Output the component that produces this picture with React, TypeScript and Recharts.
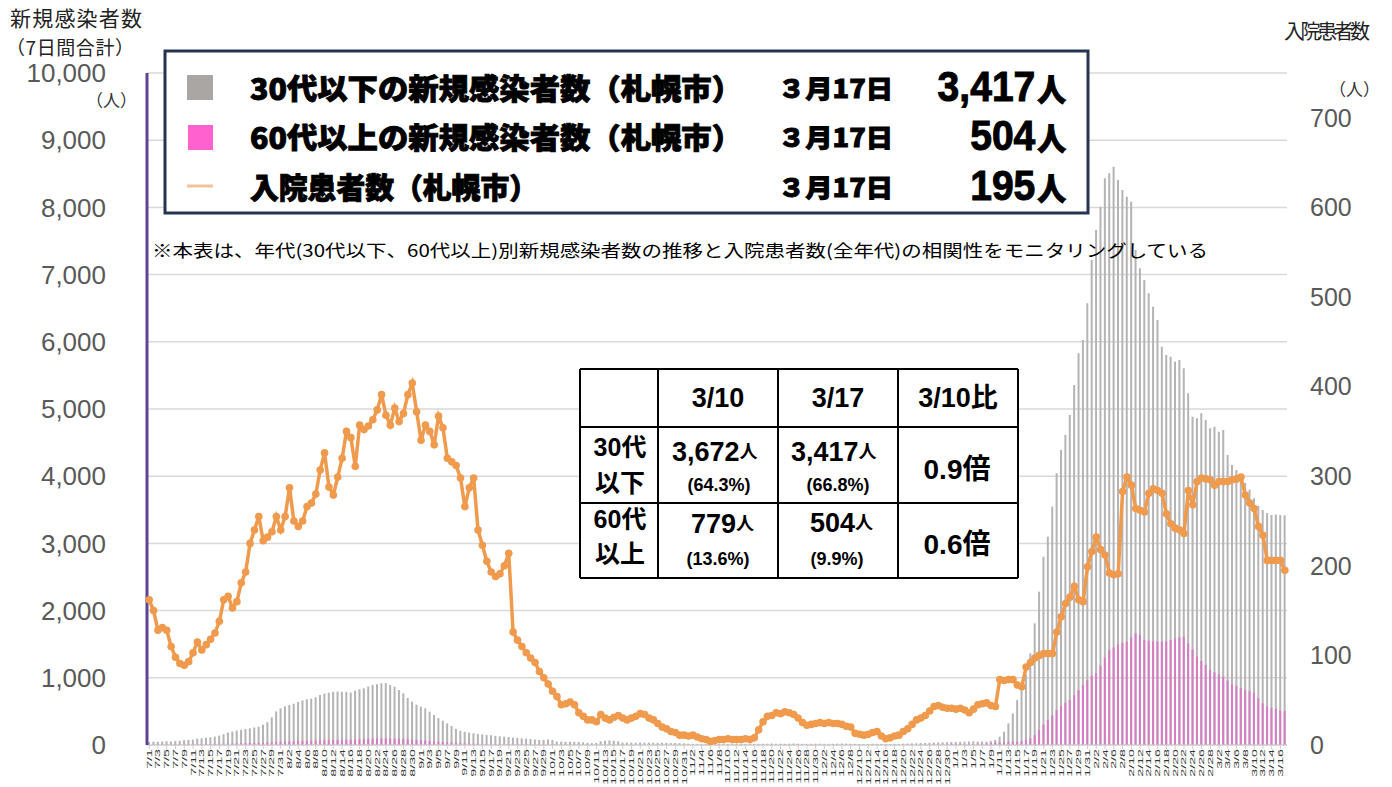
import { ComposedChart, Bar, Line, XAxis, YAxis, CartesianGrid } from 'recharts'

// month / number of days shown (7/1 .. 3/17)
const MONTHS: [number, number][] = [[7, 31], [8, 31], [9, 30], [10, 31], [11, 30], [12, 31], [1, 31], [2, 28], [3, 17]]

// 30代以下 新規感染者数 (7日間合計)
const YOUNG = [
  45, 50, 48, 52, 55, 50, 58, 62, 70, 75,
  80, 95, 100, 108, 115, 125, 140, 160, 185, 200,
  215, 225, 240, 248, 260, 272, 300, 340, 410, 500,
  545, 575, 595, 615, 640, 665, 680, 690, 710, 744,
  765, 779, 790, 795, 793, 790, 780, 808, 829, 843,
  870, 893, 905, 918, 920, 893, 868, 818, 769, 700,
  645, 600, 570, 546, 496, 446, 400, 362, 322, 283,
  240, 210, 195, 184, 174, 165, 158, 150, 145, 135,
  128, 124, 118, 110, 105, 100, 95, 88, 80, 75,
  78, 80, 75, 52, 50, 48, 50, 48, 45, 40,
  32, 28, 30, 55, 65, 68, 62, 55, 35, 36,
  35, 34, 36, 33, 35, 34, 32, 35, 33, 30,
  30, 28, 25, 20, 18, 17, 16, 15, 15, 14,
  15, 16, 15, 14, 15, 16, 17, 16, 15, 16,
  18, 20, 22, 20, 19, 18, 20, 22, 20, 18,
  17, 18, 20, 19, 18, 17, 18, 20, 22, 20,
  18, 17, 16, 15, 16, 18, 17, 16, 15, 16,
  17, 18, 20, 22, 24, 25, 28, 30, 32, 35,
  38, 40, 42, 44, 45, 48, 50, 52, 55, 50,
  52, 50, 60, 75, 124, 198, 322, 471, 670, 818,
  1050, 1364, 1811, 2282, 2802, 3100, 3546, 4043, 4390, 4613,
  4911, 5357, 5828, 6027, 6572, 7217, 7664, 8011, 8433, 8507,
  8606, 8408, 8259, 8160, 8085, 7366, 7093, 6920, 6722, 6523,
  6324, 5928, 5804, 5779, 5704, 5729, 5605, 5233, 4886, 4861,
  4936, 4836, 4712, 4737, 4663, 4688, 4315, 4167, 4092, 3980,
  3900, 3800, 3672, 3560, 3497, 3450, 3423, 3430, 3420, 3417,
]

// 60代以上 新規感染者数 (7日間合計)
const OLD = [
  8, 8, 9, 9, 10, 10, 10, 11, 11, 12,
  12, 13, 14, 15, 15, 16, 18, 20, 22, 24,
  25, 26, 28, 30, 30, 32, 35, 38, 40, 45,
  48, 50, 52, 55, 58, 60, 62, 62, 65, 68,
  70, 72, 75, 75, 76, 78, 80, 82, 84, 86,
  90, 95, 98, 100, 100, 98, 95, 92, 88, 85,
  80, 75, 70, 66, 60, 55, 50, 45, 40, 36,
  32, 28, 25, 22, 20, 18, 17, 16, 15, 14,
  13, 12, 12, 11, 10, 10, 9, 9, 8, 8,
  8, 8, 8, 7, 7, 7, 7, 6, 6, 6,
  6, 6, 5, 6, 7, 7, 6, 6, 5, 5,
  5, 5, 6, 5, 5, 5, 4, 4, 4, 4,
  4, 4, 3, 3, 3, 3, 3, 3, 3, 3,
  3, 3, 3, 3, 3, 3, 3, 3, 3, 3,
  4, 4, 4, 4, 4, 4, 4, 4, 4, 4,
  4, 4, 4, 4, 4, 4, 4, 4, 4, 4,
  4, 4, 4, 3, 3, 3, 3, 3, 3, 3,
  4, 4, 4, 5, 5, 5, 6, 6, 7, 8,
  9, 10, 10, 11, 12, 12, 13, 14, 15, 18,
  20, 22, 30, 38, 42, 45, 48, 50, 50, 55,
  75, 100, 150, 223, 300, 372, 440, 521, 580, 630,
  670, 740, 818, 890, 967, 1030, 1067, 1180, 1300, 1414,
  1450, 1500, 1520, 1537, 1600, 1662, 1640, 1563, 1550, 1545,
  1540, 1537, 1545, 1563, 1580, 1600, 1612, 1513, 1420, 1314,
  1250, 1190, 1116, 1080, 1050, 1017, 960, 900, 880, 850,
  820, 800, 779, 700, 620, 570, 550, 540, 510, 504,
]

// 入院患者数 (札幌市)
const HOSP = [
  162, 150, 128, 131, 128, 110, 98, 91, 89, 93,
  103, 115, 106, 112, 118, 125, 138, 162, 166, 153,
  160, 181, 193, 225, 240, 255, 228, 232, 238, 255,
  240, 255, 287, 250, 244, 250, 266, 270, 280, 307,
  326, 288, 279, 299, 320, 350, 343, 311, 357, 352,
  356, 363, 374, 391, 368, 357, 376, 361, 370, 391,
  404, 372, 340, 357, 350, 335, 367, 354, 320, 316,
  312, 298, 266, 287, 298, 240, 223, 205, 193, 188,
  191, 200, 214, 126, 117, 110, 103, 97, 92, 82,
  75, 68, 60, 54, 45, 46, 48, 45, 36, 32,
  28, 28, 26, 34, 30, 28, 31, 33, 30, 28,
  30, 32, 35, 34, 30, 28, 24, 20, 18, 15,
  14, 11, 11, 10, 11, 9, 7, 6, 4, 5,
  6, 6, 7, 6, 6, 6, 7, 6, 8, 17,
  26, 32, 33, 36, 35, 37, 36, 34, 30, 25,
  22, 23, 24, 25, 24, 25, 24, 24, 23, 21,
  20, 13, 12, 11, 12, 14, 15, 10, 7, 8,
  10, 11, 15, 18, 23, 28, 30, 33, 38, 43,
  44, 42, 41, 41, 40, 41, 39, 36, 40, 45,
  46, 47, 44, 43, 73, 72, 73, 73, 67, 65,
  87, 92, 97, 100, 102, 102, 102, 126, 143, 158,
  165, 177, 162, 160, 199, 216, 232, 218, 212, 192,
  190, 191, 283, 299, 290, 264, 262, 260, 281, 286,
  284, 281, 258, 247, 242, 240, 236, 284, 268, 294,
  298, 297, 296, 290, 294, 294, 294, 296, 297, 299,
  279, 270, 264, 244, 234, 206, 206, 206, 206, 195,
]

const LEFT_TICKS = [0, 1000, 2000, 3000, 4000, 5000, 6000, 7000, 8000, 9000, 10000]
const RIGHT_TICKS = [0, 100, 200, 300, 400, 500, 600, 700]

const DATES: string[] = MONTHS.flatMap(([m, n]) => Array.from({ length: n }, (_, i) => `${m}/${i + 1}`))
const rows = DATES.map((date, i) => ({ date, young: YOUNG[i], old: OLD[i], hosp: HOSP[i] }))

const JP = '"Noto Sans CJK JP", "Noto Sans", sans-serif'
const NUM = '"Liberation Sans", Arial, "Noto Sans CJK JP", sans-serif'
const ORANGE = '#ef9a4c'

const XTick = ({ x, y, payload }: any) => (
  <text transform={`translate(${x},${y - 2}) rotate(-90) scale(1.9,1)`} textAnchor="end" dy="0.33em"
    fontSize={7.5} fontFamily={NUM} fill="#333">{payload.value}</text>
)
const LeftTick = ({ x, y, payload }: any) => (
  <text x={x - 33} y={y} dy="0.35em" textAnchor="end" fontSize={26} fontFamily={NUM} fill="#595959">
    {payload.value.toLocaleString('en-US')}
  </text>
)
const RightTick = ({ x, y, payload }: any) => (
  <text x={x + 15} y={y} dy="0.35em" textAnchor="start" fontSize={25} fontFamily={NUM} fill="#595959">
    {payload.value}
  </text>
)

function Overlay() {
  const cols = [580, 658, 778, 898, 1018]
  const rws = [369, 427, 503, 578]
  const heavy = { fontWeight: 900, fontFamily: JP, fill: '#000', stroke: '#000', strokeWidth: 0.9 }
  return (
    <svg width={1392} height={787} style={{ position: 'absolute', left: 0, top: 0, pointerEvents: 'none' }}>
      {/* axis titles */}
      <text x={10} y={17} dominantBaseline="central" fontSize={21} fontFamily={JP} fill="#222" textLength={132}>新規感染者数</text>
      <text x={6} y={46} dominantBaseline="central" fontSize={19} fontFamily={JP} fill="#222" textLength={128}>（7日間合計）</text>
      <text x={86} y={99} dominantBaseline="central" fontSize={17} fontFamily={JP} fill="#333">（人）</text>
      <text x={1284} y={30} dominantBaseline="central" fontSize={20} fontFamily={JP} fill="#222" textLength={86}>入院患者数</text>
      <text x={1329} y={88} dominantBaseline="central" fontSize={17} fontFamily={JP} fill="#333">（人）</text>

      {/* legend box */}
      <rect x={165} y={51} width={923} height={162} fill="#fff" stroke="#26344f" strokeWidth={3} />
      <rect x={187} y={75} width={26} height={25} fill="#aaa6a4" />
      <rect x={188} y={125} width={25} height={25} fill="#ff62cf" />
      <line x1={187} x2={213} y1={186} y2={186} stroke="#f2c29b" strokeWidth={3} />
      {[
        ['30代以下の新規感染者数（札幌市）', 492, '3,417', 87],
        ['60代以上の新規感染者数（札幌市）', 492, '504', 136],
        ['入院患者数（札幌市）', 288, '195', 186],
      ].map(([label, lw, num, cy]: any) => (
        <g key={label}>
          <text x={250} y={cy} dominantBaseline="central" fontSize={29} {...heavy}
            textLength={lw} lengthAdjust="spacingAndGlyphs">{label}</text>
          <text x={778} y={cy} dominantBaseline="central" fontSize={25} {...heavy}
            textLength={115} lengthAdjust="spacingAndGlyphs">３月17日</text>
          <text transform={`translate(1066 ${cy + 14}) scale(0.93 1)`} textAnchor="end" fontSize={42} fontWeight={700}
            fontFamily={NUM} fill="#000" stroke="#000" strokeWidth={1}>
            {num}<tspan fontFamily={JP} fontWeight={900} fontSize={31} dx={2}>人</tspan>
          </text>
        </g>
      ))}

      {/* note */}
      <text x={152} y={249} dominantBaseline="central" fontSize={17} fontFamily={JP} fill="#000" textLength={1056}
        lengthAdjust="spacingAndGlyphs">※本表は、年代(30代以下、60代以上)別新規感染者数の推移と入院患者数(全年代)の相関性をモニタリングしている</text>

      {/* comparison table */}
      <rect x={580} y={369} width={438} height={209} fill="#fff" />
      {cols.map((cx) => <line key={cx} x1={cx} x2={cx} y1={369} y2={578} stroke="#000" strokeWidth={2} />)}
      {rws.map((ry) => <line key={ry} x1={580} x2={1018} y1={ry} y2={ry} stroke="#000" strokeWidth={2} />)}
      <g fontFamily={NUM} fontWeight={700} fill="#000">
        <text x={718} y={398} dominantBaseline="central" textAnchor="middle" fontSize={27}>3/10</text>
        <text x={838} y={398} dominantBaseline="central" textAnchor="middle" fontSize={27}>3/17</text>
        <text x={958} y={398} dominantBaseline="central" textAnchor="middle" fontSize={27}>3/10比</text>

        <text x={620} y={447} dominantBaseline="central" textAnchor="middle" fontSize={25}>30代</text>
        <text x={620} y={483} dominantBaseline="central" textAnchor="middle" fontSize={25}>以下</text>
        <text x={620} y={519} dominantBaseline="central" textAnchor="middle" fontSize={25}>60代</text>
        <text x={620} y={554} dominantBaseline="central" textAnchor="middle" fontSize={25}>以上</text>

        <text x={672} y={452} dominantBaseline="central" fontSize={27}>3,672<tspan fontSize={18}>人</tspan></text>
        <text x={719} y={485} dominantBaseline="central" textAnchor="middle" fontSize={18}>(64.3%)</text>
        <text x={791} y={452} dominantBaseline="central" fontSize={27}>3,417<tspan fontSize={18}>人</tspan></text>
        <text x={838} y={485} dominantBaseline="central" textAnchor="middle" fontSize={18}>(66.8%)</text>
        <text x={957} y={469} dominantBaseline="central" textAnchor="middle" fontSize={28}>0.9倍</text>

        <text x={691} y={524} dominantBaseline="central" fontSize={27}>779<tspan fontSize={18}>人</tspan></text>
        <text x={718} y={559} dominantBaseline="central" textAnchor="middle" fontSize={18}>(13.6%)</text>
        <text x={810} y={523} dominantBaseline="central" fontSize={27}>504<tspan fontSize={18}>人</tspan></text>
        <text x={837} y={559} dominantBaseline="central" textAnchor="middle" fontSize={18}>(9.9%)</text>
        <text x={957} y={544} dominantBaseline="central" textAnchor="middle" fontSize={28}>0.6倍</text>
      </g>
    </svg>
  )
}

export default function App() {
  return (
    <div style={{ position: 'absolute', left: 0, top: 0, width: 1392, height: 787, background: '#fff' }}>
      <ComposedChart width={1392} height={787} data={rows} margin={{ top: 73, right: 0, bottom: 0, left: 0 }}>
        <CartesianGrid xAxisId="a" yAxisId="left" vertical={false} stroke="#d9d9d9" strokeWidth={1.5} />
        <XAxis xAxisId="a" dataKey="date" interval={1} height={42} tick={<XTick />}
          tickLine={{ stroke: '#cfcfcf' }} tickSize={4} axisLine={{ stroke: '#d0d0d0' }} />
        <XAxis xAxisId="b" dataKey="date" hide />
        <YAxis yAxisId="left" domain={[0, 10000]} ticks={LEFT_TICKS} width={147} interval={0}
          axisLine={{ stroke: '#5e4391', strokeWidth: 3 }} tickLine={false} tick={<LeftTick />} />
        <YAxis yAxisId="right" orientation="right" domain={[0, 750]} ticks={RIGHT_TICKS} width={105} interval={0}
          axisLine={false} tickLine={false} tick={<RightTick />} />
        <Bar xAxisId="a" yAxisId="left" dataKey="young" fill="#b5b3b3" barSize={2} isAnimationActive={false} />
        <Bar xAxisId="b" yAxisId="left" dataKey="old" fill="#d67cc2" barSize={2} isAnimationActive={false} />
        <Line xAxisId="a" yAxisId="right" dataKey="hosp" type="linear" stroke={ORANGE} strokeWidth={3.5}
          dot={{ r: 3.8, fill: ORANGE, stroke: ORANGE, strokeWidth: 0 }} isAnimationActive={false} />
      </ComposedChart>
      <Overlay />
    </div>
  )
}
